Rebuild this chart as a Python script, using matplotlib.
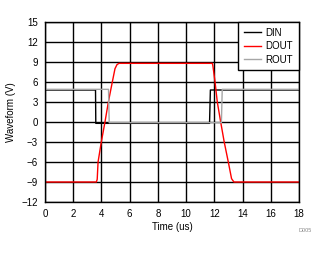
import matplotlib
matplotlib.use("Agg")
import matplotlib.pyplot as plt

plt.rcParams['font.family'] = ['Liberation Sans', 'DejaVu Sans']

# time in us, level in V
din_t = [0, 3.58, 3.6, 11.66, 11.72, 18]
din_v = [4.8, 4.8, -0.2, -0.2, 4.8, 4.8]

dout_t = [0, 3.64, 3.7, 3.76, 3.99, 4.25, 4.49, 4.77, 4.96, 5.1, 5.24,
          11.86, 11.9, 12.05, 12.21, 12.45, 12.7, 12.99, 13.22, 13.39, 18]
dout_v = [-9, -9, -8.6, -6, -3, 0, 3, 6, 8, 8.6, 8.8,
          8.8, 8.4, 6, 3, 0, -3, -6, -8.5, -9, -9]

rout_t = [0, 4.5, 4.55, 12.5, 12.56, 18]
rout_v = [4.9, 4.9, -0.1, -0.1, 4.9, 4.9]

fig = plt.figure(figsize=(3.28, 2.54), dpi=100)
ax = fig.add_axes([45/328, 1-202/254, 254/328, 180/254])

ax.plot(din_t, din_v, color='black', lw=1.0, label='DIN')
ax.plot(dout_t, dout_v, color='#ff0000', lw=1.0, label='DOUT')
ax.plot(rout_t, rout_v, color='#a6a6a6', lw=1.0, label='ROUT')

ax.set_xlim(0, 18)
ax.set_ylim(-12, 15)
ax.set_xticks(range(0, 19, 2))
ax.set_yticks(range(-12, 16, 3))
ax.grid(True, color='black', lw=1.0)
ax.tick_params(length=0, labelsize=7, pad=5)
for s in ax.spines.values():
    s.set_color('black')
    s.set_linewidth(1.0)

ax.set_xlabel('Time (us)', fontsize=7, labelpad=2)
ax.set_ylabel('Waveform (V)', fontsize=7, labelpad=4)

leg = ax.legend(loc='upper right', fontsize=7, frameon=True, fancybox=False,
                borderaxespad=0, handlelength=1.75, handletextpad=0.5,
                labelspacing=0.35, borderpad=0.6, framealpha=1)
leg.get_frame().set_edgecolor('black')
leg.get_frame().set_linewidth(1.0)

fig.text(305/328, 1-231/254, 'D005', fontsize=4, color='#888888', ha='center', va='center')

fig.savefig('out.png', dpi=100)
